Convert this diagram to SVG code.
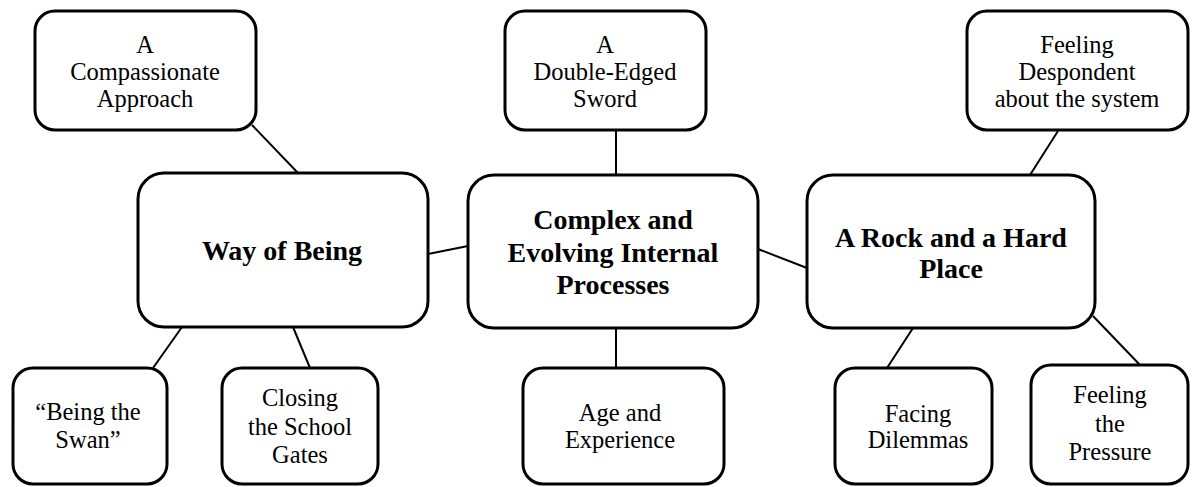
<svg xmlns="http://www.w3.org/2000/svg" width="1195" height="487" viewBox="0 0 1195 487">
  <style>
    .box { fill: #ffffff; stroke: #000000; stroke-width: 3; }
    .link { stroke: #000000; stroke-width: 2; fill: none; }
    .sub { font-family: 'Liberation Serif', 'DejaVu Serif', serif; font-size: 24.5px; fill: #000000; text-anchor: middle; }
    .main { font-family: 'Liberation Serif', 'DejaVu Serif', serif; font-size: 28px; font-weight: bold; fill: #000000; text-anchor: middle; }
  </style>
  <rect width="1195" height="487" fill="#ffffff"/>

  <!-- connectors -->
  <g id="connectors">
    <line class="link" x1="252" y1="125" x2="298" y2="173"/>
    <line class="link" x1="616" y1="130" x2="616" y2="175"/>
    <line class="link" x1="1058" y1="131" x2="1030" y2="175"/>
    <line class="link" x1="428" y1="254" x2="468" y2="246"/>
    <line class="link" x1="758" y1="249" x2="807" y2="268"/>
    <line class="link" x1="182" y1="327" x2="153" y2="368"/>
    <line class="link" x1="293" y1="327" x2="310" y2="368"/>
    <line class="link" x1="616" y1="328" x2="616" y2="368"/>
    <line class="link" x1="913" y1="328" x2="887" y2="368"/>
    <line class="link" x1="1093" y1="316" x2="1140" y2="365"/>
  </g>

  <!-- top row -->
  <g id="compassionate-approach">
    <rect class="box" x="35" y="11" width="221" height="119" rx="20"/>
    <text class="sub" x="145" y="53">A</text>
    <text class="sub" x="145" y="80">Compassionate</text>
    <text class="sub" x="145" y="107">Approach</text>
  </g>
  <g id="double-edged-sword">
    <rect class="box" x="505" y="11" width="201" height="119" rx="20"/>
    <text class="sub" x="605" y="53">A</text>
    <text class="sub" x="605" y="80">Double-Edged</text>
    <text class="sub" x="605" y="107">Sword</text>
  </g>
  <g id="feeling-despondent">
    <rect class="box" x="967" y="11" width="221" height="119" rx="20"/>
    <text class="sub" x="1077" y="53">Feeling</text>
    <text class="sub" x="1077" y="80">Despondent</text>
    <text class="sub" x="1077" y="107">about the system</text>
  </g>

  <!-- middle row: main themes -->
  <g id="way-of-being">
    <rect class="box" x="138" y="173" width="290" height="154" rx="26"/>
    <text class="main" x="282" y="260">Way of Being</text>
  </g>
  <g id="internal-processes">
    <rect class="box" x="468" y="175" width="290" height="153" rx="26"/>
    <text class="main" x="613" y="229">Complex and</text>
    <text class="main" x="613" y="262">Evolving Internal</text>
    <text class="main" x="613" y="294">Processes</text>
  </g>
  <g id="rock-and-hard-place">
    <rect class="box" x="807" y="175" width="288" height="153" rx="26"/>
    <text class="main" x="951" y="247">A Rock and a Hard</text>
    <text class="main" x="951" y="278">Place</text>
  </g>

  <!-- bottom row -->
  <g id="being-the-swan">
    <rect class="box" x="13" y="368" width="154" height="116" rx="20"/>
    <text class="sub" x="88" y="420">“Being the</text>
    <text class="sub" x="88" y="448">Swan”</text>
  </g>
  <g id="closing-school-gates">
    <rect class="box" x="222" y="368" width="156" height="116" rx="20"/>
    <text class="sub" x="300" y="406">Closing</text>
    <text class="sub" x="300" y="435">the School</text>
    <text class="sub" x="300" y="463">Gates</text>
  </g>
  <g id="age-and-experience">
    <rect class="box" x="523" y="368" width="201" height="116" rx="20"/>
    <text class="sub" x="620" y="421">Age and</text>
    <text class="sub" x="620" y="448">Experience</text>
  </g>
  <g id="facing-dilemmas">
    <rect class="box" x="835" y="368" width="157" height="116" rx="20"/>
    <text class="sub" x="918" y="422">Facing</text>
    <text class="sub" x="918" y="448">Dilemmas</text>
  </g>
  <g id="feeling-the-pressure">
    <rect class="box" x="1031" y="365" width="157" height="119" rx="20"/>
    <text class="sub" x="1110" y="403">Feeling</text>
    <text class="sub" x="1110" y="432">the</text>
    <text class="sub" x="1110" y="460">Pressure</text>
  </g>
</svg>
